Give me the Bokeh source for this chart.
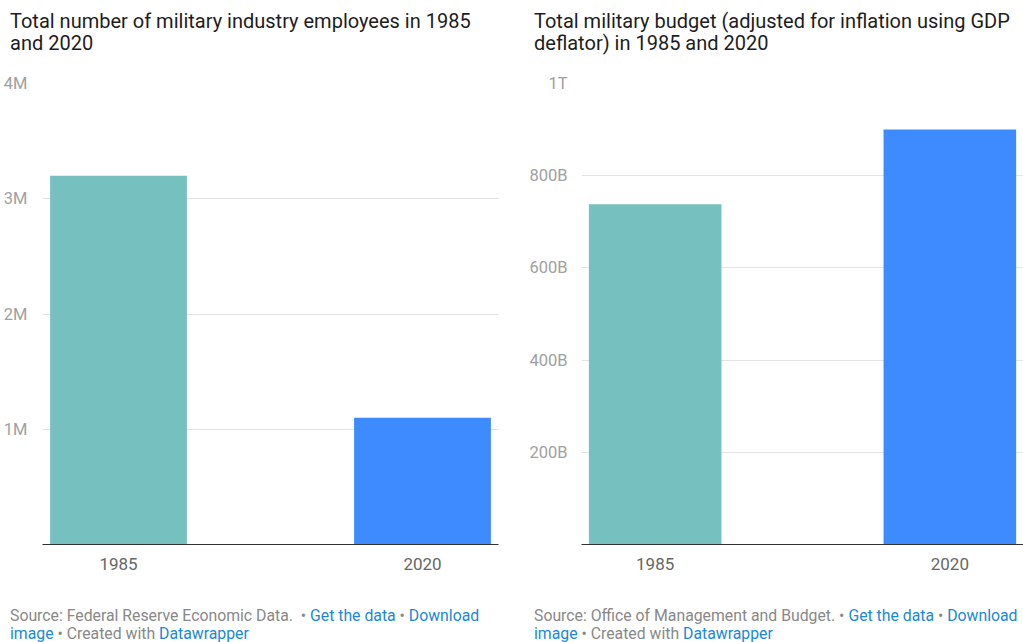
from bokeh.plotting import figure
from bokeh.models import FactorRange, Range1d, FixedTicker, Div, ColumnDataSource
from bokeh.layouts import row, column
from bokeh.embed import file_html
from bokeh.resources import INLINE

years = ["1985", "2020"]
employees = [3.2e6, 1.1e6]
budget = [738e9, 900e9]
bar_colors = ["#76c1bf", "#3e8bff"]

emp_ticks = [1e6, 2e6, 3e6, 4e6]
emp_tick_labels = ["1M", "2M", "3M", "4M"]
budget_ticks = [200e9, 400e9, 600e9, 800e9, 1e12]
budget_tick_labels = ["200B", "400B", "600B", "800B", "1T"]

title_left = "Total number of military industry employees in 1985<br>and 2020"
title_right = "Total military budget (adjusted for inflation using GDP<br>deflator) in 1985 and 2020"
source_left = "Source: Federal Reserve Economic Data.&nbsp; "
source_right = "Source: Office of Management and Budget. "

FONT = "Roboto"
LINK = "#1a88d6"
GRAY = "#888888"


def make_fig(values, ticks, tick_labels, ymax, width, left, right, standoff):
    src = ColumnDataSource(dict(x=years, top=values, color=bar_colors))
    p = figure(
        x_range=FactorRange(factors=years, range_padding=-0.25, range_padding_units="absolute"),
        y_range=Range1d(0, ymax),
        width=width, height=530,
        min_border_left=left, min_border_right=right,
        min_border_top=13, min_border_bottom=56,
        output_backend="svg", toolbar_location=None,
    )
    p.vbar(x="x", top="top", width=0.45, color="color", source=src, line_color=None)
    p.outline_line_color = None
    p.background_fill_color = "white"
    p.border_fill_color = "white"
    p.xgrid.grid_line_color = None
    p.ygrid.grid_line_color = "#e3e3e3"
    p.ygrid.grid_line_width = 1

    p.yaxis.ticker = FixedTicker(ticks=ticks)
    p.yaxis.major_label_overrides = {t: l for t, l in zip(ticks, tick_labels)}
    p.yaxis.axis_line_color = None
    p.yaxis.major_tick_line_color = None
    p.yaxis.minor_tick_line_color = None
    p.yaxis.major_label_text_font = FONT
    p.yaxis.major_label_text_font_size = "16.5px"
    p.yaxis.major_label_text_color = "#a0a0a0"
    p.yaxis.major_label_standoff = standoff

    p.xaxis.axis_line_color = "#333333"
    p.xaxis.axis_line_width = 1
    p.xaxis.major_tick_line_color = None
    p.xaxis.minor_tick_line_color = None
    p.xaxis.major_label_text_font = FONT
    p.xaxis.major_label_text_font_size = "17px"
    p.xaxis.major_label_text_color = "#666666"
    p.xaxis.major_label_standoff = 7
    return p


def title_div(text, width, pad_left):
    html = (f'<div style="font-family:{FONT};font-size:20px;line-height:22px;color:#1d1d1d;'
            f'padding:10px 0 0 {pad_left}px;white-space:nowrap;">{text}</div>')
    return Div(text=html, width=width, height=70, margin=0)


def footer_div(source, width, pad_left):
    html = (f'<div style="font-family:{FONT};font-size:15.8px;line-height:18px;color:{GRAY};'
            f'padding:7px 0 0 {pad_left}px;white-space:nowrap;">{source}&bull; '
            f'<span style="color:{LINK}">Get the data</span> &bull; '
            f'<span style="color:{LINK}">Download<br>image</span> &bull; Created with '
            f'<span style="color:{LINK}">Datawrapper</span></div>')
    return Div(text=html, width=width, height=42, margin=0)


p1 = make_fig(employees, emp_ticks, emp_tick_labels, 4e6, 512, 42, 14, 9)
p2 = make_fig(budget, budget_ticks, budget_tick_labels, 1e12, 511, 69, 0, 8)

left_col = column(title_div(title_left, 512, 10), p1, footer_div(source_left, 512, 10), spacing=0)
right_col = column(title_div(title_right, 511, 22), p2, footer_div(source_right, 511, 22), spacing=0)
layout = row(left_col, right_col, spacing=0)

open("out.html", "w").write(file_html(layout, INLINE))
